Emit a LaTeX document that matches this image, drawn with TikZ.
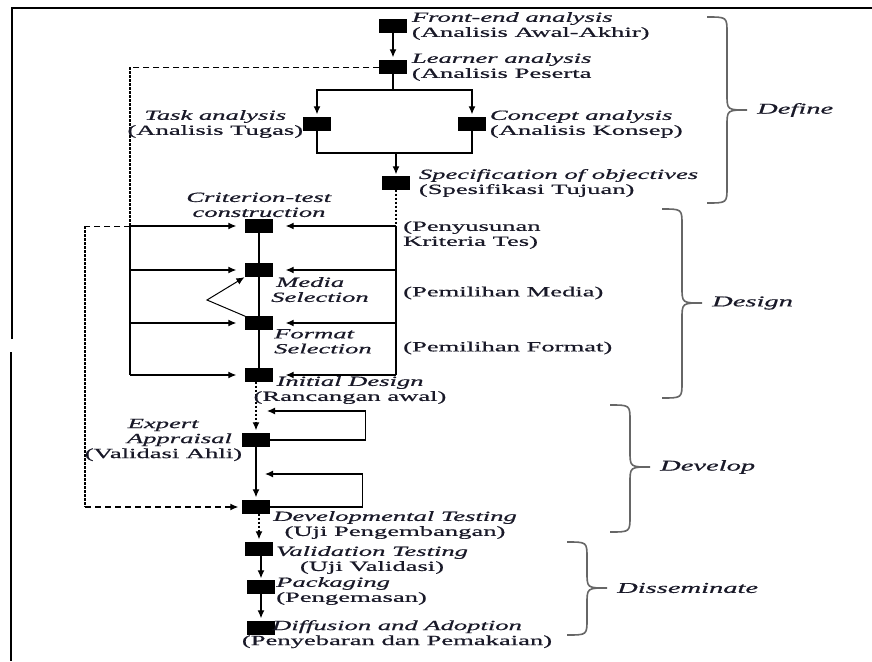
\documentclass[tikz,border=0pt]{standalone}
\usepackage{fontspec}
\setmainfont{Liberation Serif}[FakeStretch=1.9,FakeBold=0.7]
\usetikzlibrary{arrows.meta,positioning}
\definecolor{labelink}{RGB}{25,25,40}
\tikzset{
  stepbox/.style={fill=black,draw=black,minimum width=27pt,minimum height=13pt,inner sep=0pt},
  flowline/.style={line width=1.2pt},
  flowarrow/.style={-{Latex[length=8pt,width=7pt]},line width=1.2pt},
  vdots/.style={line width=1.2pt,dash pattern=on 2.5pt off 1.5pt},
  hdash/.style={line width=1pt,dash pattern=on 6pt off 4pt},
  steptext/.style={font=\fontsize{14}{15}\selectfont,text=labelink,inner sep=0pt,align=left},
  phasetext/.style={font=\fontsize{15}{16}\selectfont\itshape,text=labelink,inner sep=0pt,anchor=west},
  bracepen/.style={draw=black!60,line width=1.6pt},
  framepen/.style={line width=1.5pt}
}
% curly brace + phase name: x of ends, top, tip, bottom, name, text
\newcommand{\phasebrace}[6]{%
  \draw[bracepen] (#1,#2) .. controls (#1+20,#2) .. (#1+20,#2+16)
    -- (#1+20,#3-16) .. controls (#1+20,#3) .. (#1+40,#3)
    .. controls (#1+20,#3) .. (#1+20,#3+16)
    -- (#1+20,#4-16) .. controls (#1+20,#4) .. (#1,#4);
  \node[phasetext] (#5) at (#1+50,#3) {#6};
}

\begin{document}
\begin{tikzpicture}[x=1pt,y=-1pt]
  \useasboundingbox (0,0) rectangle (872,661);
  % frame
  \draw[framepen] (12,339) -- (12,8) -- (872,8);
  \draw[framepen] (11,352) -- (11,661);

  % define
  \node[stepbox] (frontend) at (393,26) {};
  \node[stepbox] (learner) at (393,67) {};
  \node[stepbox] (task) at (317,124) {};
  \node[stepbox] (concept) at (472,124) {};
  \node[stepbox] (spec) at (396,183) {};
  % design
  \node[stepbox] (crit) at (259,226) {};
  \node[stepbox] (media) at (259,270) {};
  \node[stepbox] (format) at (259,323) {};
  \node[stepbox] (initial) at (259,375) {};
  % develop
  \node[stepbox] (expert) at (256,440) {};
  \node[stepbox] (devtest) at (256,507) {};
  % disseminate
  \node[stepbox] (valid) at (259,549) {};
  \node[stepbox] (pack) at (261,587) {};
  \node[stepbox] (diffuse) at (261,628) {};

  \coordinate (split) at (393,90);
  \coordinate (merge) at (396,153);
  \coordinate (ltop) at (130,226);
  \coordinate (lbot) at (130,375);
  \coordinate (rtop) at (396,226);
  \coordinate (rbot) at (396,375);
  \coordinate (lcorner) at (130,67);
  \coordinate (ocorner) at (85,226);
  \coordinate (obottom) at (85,507);
  \coordinate (bend) at (207,300);
  \coordinate (exptip) at (267,411);
  \coordinate (devtip) at (265,474);

  \draw[flowarrow,shorten >=3pt] (frontend) -- (learner);
  \draw[flowline] (learner) -- (split);
  \draw[flowarrow,shorten >=3pt] (split) -| (task);
  \draw[flowarrow,shorten >=3pt] (split) -| (concept);
  \draw[flowline] (task) |- (merge) -| (concept);
  \draw[flowarrow,shorten >=2pt] (merge) -- (spec);

  % spines of the design stage
  \draw[vdots] (spec) -- (rtop);
  \draw[flowline] (rtop) -- (rbot);
  \draw[hdash] (learner.west) -- (lcorner);
  \draw[vdots] (lcorner) -- (ltop);
  \draw[flowline] (ltop) -- (lbot);
  \foreach \s in {crit,media,format,initial} {
    \draw[flowarrow,shorten >=9pt] (ltop |- \s) -- (\s.west);
    \draw[flowarrow,shorten >=13pt] (rtop |- \s) -- (\s.east);
  }
  \draw[flowline] (crit) -- (media);
  \draw[flowline] (media) -- (format);
  \draw[flowline] (format) -- (initial);
  \draw[flowarrow,line width=1pt,shorten >=1pt] (format.north west) -- (bend) -- (media.south west);

  % develop
  \draw[vdots,flowarrow,shorten >=3pt] (initial.south -| expert) -- (expert);
  \draw[flowarrow] (expert.east) -- ++(96,0) |- (exptip);
  \draw[flowarrow,shorten >=3pt] (expert) -- (devtest);
  \draw[flowarrow] (devtest.east) -- ++(93,0) |- (devtip);
  \draw[hdash] (ltop) -- (ocorner);
  \draw[vdots] (ocorner) -- (obottom);
  \draw[hdash,flowarrow,shorten >=4pt] (obottom) -- (devtest.west);

  % disseminate
  \draw[vdots,flowarrow,shorten >=3pt] (devtest.south -| valid) -- (valid);
  \draw[flowarrow,shorten >=2pt] (valid.south -| pack) -- (pack);
  \draw[flowarrow,shorten >=3pt] (pack) -- (diffuse);

  % labels
  \node[steptext,right=5pt of frontend] (frontendlbl) {\textit{Front-end analysis}\\(Analisis Awal-Akhir)};
  \node[steptext,right=5pt of learner] (learnerlbl) {\textit{Learner analysis}\\(Analisis Peserta};
  \node[steptext,align=center,left=0pt of task] (tasklbl) {\textit{Task analysis}\\(Analisis Tugas)};
  \node[steptext,right=4pt of concept] (conceptlbl) {\textit{Concept analysis}\\(Analisis Konsep)};
  \node[steptext,right=9pt of spec] (speclbl) {\textit{Specification of objectives}\\(Spesifikasi Tujuan)};
  \node[steptext,align=center,above=2pt of crit] (critlbl) {\textit{Criterion-test}\\\textit{construction}};
  \node[steptext,anchor=west] (critid) at (403,235) {(Penyusunan\\Kriteria Tes)};
  \node[steptext,anchor=west] (mediaid) at (403,293) {(Pemilihan Media)};
  \node[steptext,anchor=west] (formatid) at (403,348) {(Pemilihan Format)};
  \node[steptext,anchor=north west] (medialbl) at (271,277) {\hspace*{5pt}\textit{Media}\\\textit{Selection}};
  \node[steptext,anchor=north west] (formatlbl) at (274,329) {\textit{Format}\\\textit{Selection}};
  \node[steptext,align=center,anchor=north] (initiallbl) at (350,376) {\textit{Initial Design}\\(Rancangan awal)};
  \node[steptext,align=center,left=0pt of expert] (expertlbl) {\textit{Expert}\\\hspace*{32pt}\textit{Appraisal}\\(Validasi Ahli)};
  \node[steptext,align=center,anchor=north] (devlbl) at (395,511) {\textit{Developmental Testing}\\(Uji Pengembangan)};
  \node[steptext,align=center,anchor=north] (validlbl) at (372,546) {\textit{Validation Testing}\\(Uji Validasi)};
  \node[steptext,anchor=west] (packlbl) at (276,591) {\textit{Packaging}\\(Pengemasan)};
  \node[steptext,align=center,anchor=north] (diffuselbl) at (397,620) {\textit{Diffusion and Adoption}\\(Penyebaran dan Pemakaian)};

  % phases
  \phasebrace{707}{17}{110}{203}{definephase}{Define}
  \phasebrace{662}{209}{303}{398}{designphase}{Design}
  \phasebrace{610}{405}{467}{532}{developphase}{Develop}
  \phasebrace{567}{542}{588}{635}{dissphase}{Disseminate}
\end{tikzpicture}
\end{document}
